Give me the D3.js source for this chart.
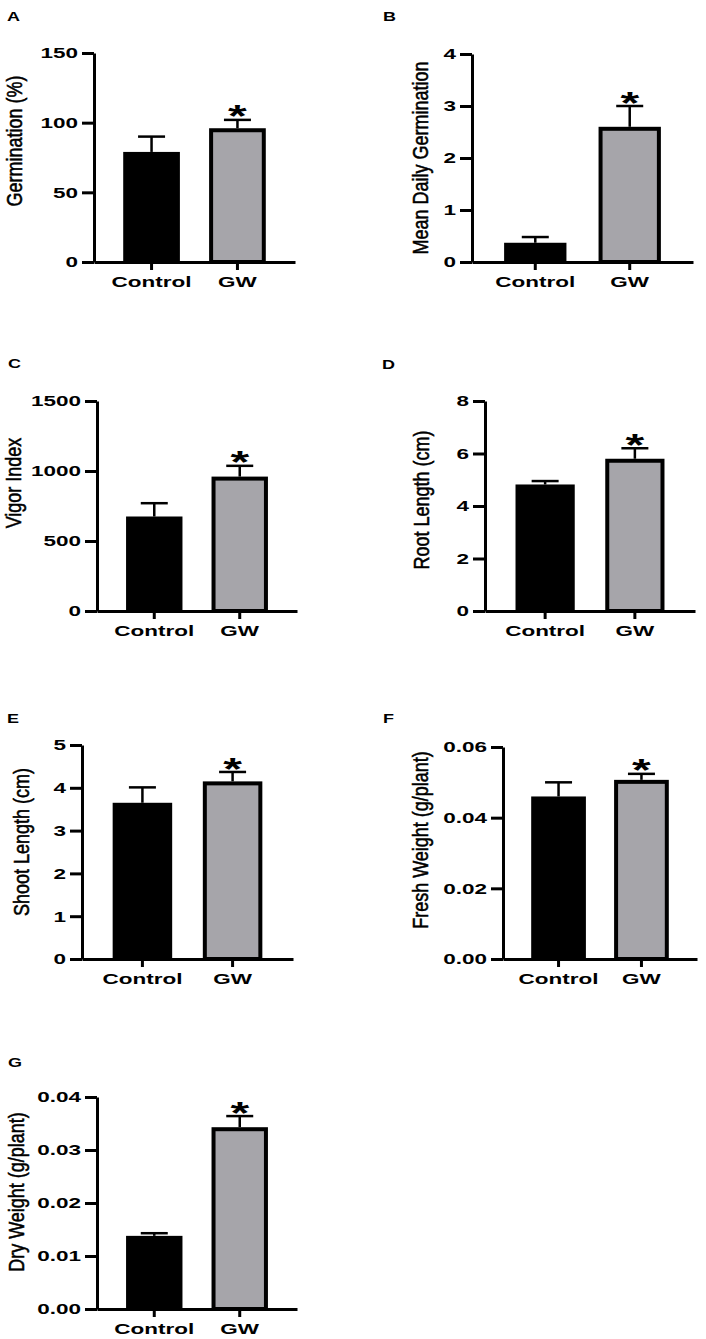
<!DOCTYPE html>
<html><head><meta charset="utf-8">
<script src="https://cdn.jsdelivr.net/npm/d3@7"></script>
<style>body{margin:0;background:#fff}svg{display:block}</style>
</head><body><svg id="c" width="706" height="1339"></svg>
<script>
// ---- data ----
const groups = ["Control", "GW"];
const panelLetters = ["A", "B", "C", "D", "E", "F", "G"];
const yTitles = ["Germination (%)", "Mean Daily Germination", "Vigor Index", "Root Length (cm)", "Shoot Length (cm)", "Fresh Weight (g/plant)", "Dry Weight (g/plant)"];
const germinationMean = [79, 96],        germinationErr = [11, 6];
const dailyGermMean   = [0.37, 2.6],     dailyGermErr   = [0.11, 0.4];
const vigorMean       = [675, 960],      vigorErr       = [95, 77];
const rootMean        = [4.82, 5.8],     rootErr        = [0.13, 0.4];
const shootMean       = [3.65, 4.15],    shootErr       = [0.36, 0.22];
const freshMean       = [0.046, 0.0507], freshErr       = [0.004, 0.0017];
const dryMean         = [0.0138, 0.0343],dryErr         = [0.0005, 0.0021];
const yMax = [150, 4, 1500, 8, 5, 0.06, 0.04];
const yTicks = [[0,50,100,150],[0,1,2,3,4],[0,500,1000,1500],[0,2,4,6,8],[0,1,2,3,4,5],[0,0.02,0.04,0.06],[0,0.01,0.02,0.03,0.04]];
const tickFormats = ["d","d","d","d","d",".2f",".2f"];
const significant = [false, true]; // asterisk on GW

const means = [germinationMean, dailyGermMean, vigorMean, rootMean, shootMean, freshMean, dryMean];
const errs  = [germinationErr, dailyGermErr, vigorErr, rootErr, shootErr, freshErr, dryErr];

// ---- layout ----
const layout = [
  {x0:94,  x1:295, top:53,   bot:262,  lx:7,   ly:21,   tx:21.5, ty:141},
  {x0:472, x1:693, top:54,   bot:262,  lx:383, ly:21,   tx:427.5,ty:158},
  {x0:97,  x1:297, top:401,  bot:611,  lx:8,   ly:368,  tx:20.5, ty:483},
  {x0:485, x1:695, top:401,  bot:611,  lx:382, ly:369,  tx:428.5,ty:500},
  {x0:82,  x1:293, top:745,  bot:959,  lx:7,   ly:723,  tx:28.5, ty:842},
  {x0:503, x1:697, top:747,  bot:959,  lx:383, ly:723,  tx:427.5,ty:840},
  {x0:97,  x1:297, top:1097, bot:1309, lx:8,   ly:1067, tx:23.5, ty:1192}
];
const SX = 1.5;      // horizontal stretch of text
const TSX = 1.2;     // stretch of axis titles
const FONT = "Arial, 'Liberation Sans', sans-serif";
const GRAY = "#a6a5aa";

const svg = d3.select("#c");

layout.forEach((L, i) => {
  const g = svg.append("g");
  const x = d3.scaleBand().domain(groups).range([L.x0, L.x1]).paddingInner(0.34).paddingOuter(0.34);
  const y = d3.scaleLinear().domain([0, yMax[i]]).range([L.bot, L.top]);
  const data = groups.map((k, j) => ({k, m: means[i][j], e: errs[i][j], sig: significant[j]}));

  // bars
  g.selectAll("rect.bar").data(data).join("rect")
    .attr("class", "bar")
    .attr("x", d => d.k === "GW" ? x(d.k) + 2 : x(d.k))
    .attr("width", d => d.k === "GW" ? x.bandwidth() - 4 : x.bandwidth())
    .attr("y", d => d.k === "GW" ? y(d.m) + 2 : y(d.m))
    .attr("height", d => d.k === "GW" ? y(0) - y(d.m) - 2 : y(0) - y(d.m))
    .attr("fill", d => d.k === "GW" ? GRAY : "#000")
    .attr("stroke", d => d.k === "GW" ? "#000" : "none")
    .attr("stroke-width", 4);

  // error bars
  const capW = 27;
  g.selectAll("line.err").data(data).join("line")
    .attr("x1", d => x(d.k) + x.bandwidth()/2).attr("x2", d => x(d.k) + x.bandwidth()/2)
    .attr("y1", d => y(d.m)).attr("y2", d => y(d.m + d.e))
    .attr("stroke", "#000").attr("stroke-width", 2.5);
  g.selectAll("line.cap").data(data).join("line")
    .attr("x1", d => x(d.k) + x.bandwidth()/2 - capW/2).attr("x2", d => x(d.k) + x.bandwidth()/2 + capW/2)
    .attr("y1", d => y(d.m + d.e)).attr("y2", d => y(d.m + d.e))
    .attr("stroke", "#000").attr("stroke-width", 2.5);

  // asterisks
  g.selectAll("text.ast").data(data.filter(d => d.sig)).join("text")
    .attr("transform", d => `translate(${x(d.k) + x.bandwidth()/2},${y(d.m + d.e) - 11 + 0.58*32}) scale(${SX},1)`)
    .attr("text-anchor", "middle")
    .attr("font-family", FONT).attr("font-weight", "bold").attr("font-size", 32)
    .text("*");

  // y axis
  const ya = g.append("g").attr("transform", `translate(${L.x0},0)`)
    .call(d3.axisLeft(y).tickValues(yTicks[i]).tickFormat(d3.format(tickFormats[i])).tickSize(12).tickSizeOuter(0));
  ya.select(".domain").attr("stroke-width", 3);
  ya.selectAll(".tick line").attr("stroke-width", 3);
  ya.selectAll(".tick text")
    .attr("x", -16 / SX).attr("transform", `scale(${SX},1)`)
    .attr("font-family", FONT).attr("font-weight", "bold").attr("font-size", 15).attr("fill", "#000");

  // x axis
  const xa = g.append("g").attr("transform", `translate(0,${L.bot})`)
    .call(d3.axisBottom(x).tickSize(8).tickSizeOuter(0));
  xa.select(".domain").attr("stroke-width", 3);
  xa.selectAll(".tick line").attr("stroke-width", 3);
  xa.selectAll(".tick text")
    .attr("y", 25).attr("dy", 0).attr("transform", `scale(${SX},1)`)
    .attr("font-family", FONT).attr("font-weight", "bold").attr("font-size", 15).attr("fill", "#000");

  // y title
  g.append("text")
    .attr("transform", `translate(${L.tx},${L.ty}) scale(${TSX},1) rotate(-90)`)
    .attr("text-anchor", "middle")
    .attr("font-family", FONT).attr("font-size", 18).attr("fill", "#000")
    .attr("stroke", "#000").attr("stroke-width", 0.45)
    .text(yTitles[i]);

  // panel letter
  g.append("text")
    .attr("transform", `translate(${L.lx},${L.ly}) scale(${SX},1)`)
    .attr("font-family", FONT).attr("font-weight", "bold").attr("font-size", 12).attr("fill", "#000")
    .text(panelLetters[i]);
});
</script>
</body></html>
